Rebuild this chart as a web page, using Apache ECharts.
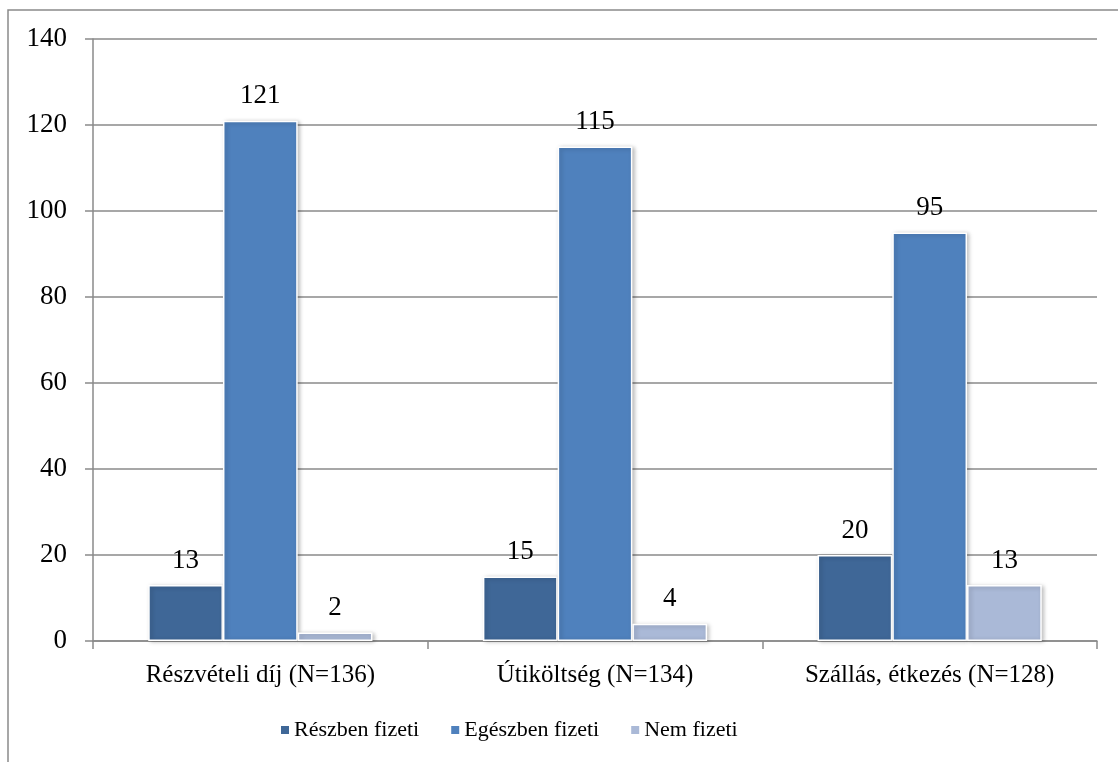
<!DOCTYPE html>
<html>
<head>
<meta charset="utf-8">
<script src="https://cdn.jsdelivr.net/npm/echarts@6/dist/echarts.min.js"></script>
<style>
html,body{margin:0;padding:0;background:#fff;}
#c{width:1118px;height:762px;}
</style>
</head>
<body>
<div id="c"></div>
<script>
const categories = ['Részvételi díj (N=136)', 'Útiköltség (N=134)', 'Szállás, étkezés (N=128)'];
const seriesNames = ['Részben fizeti', 'Egészben fizeti', 'Nem fizeti'];
const reszben = [13, 15, 20];
const egeszben = [121, 115, 95];
const nem = [2, 4, 13];
const yTicks = [0, 20, 40, 60, 80, 100, 120, 140];
const colors = ['#3F6797', '#4F81BD', '#AAB9D7'];

const FONT = 'Liberation Serif';
const chart = echarts.init(document.getElementById('c'));
const values = [reszben, egeszben, nem];
const barStyle = (c) => ({
  color: c,
  borderColor: '#ffffff',
  borderWidth: 1.5,
  shadowBlur: 4,
  shadowColor: 'rgba(0,0,0,0.25)',
  shadowOffsetX: 2,
  shadowOffsetY: 1
});
chart.setOption({
  animation: false,
  textStyle: { fontFamily: FONT },
  graphic: [{
    type: 'polyline',
    shape: { points: [[8, 762], [8, 10], [1118, 10]] },
    style: { stroke: '#8a8a8a', lineWidth: 1.5, fill: null },
    silent: true
  }],
  grid: { left: 93, right: 21, top: 39, bottom: 121 },
  legend: {
    bottom: 16,
    left: 274,
    itemWidth: 10,
    itemHeight: 10,
    itemGap: 30,
    icon: 'rect',
    formatter: (name) => '{t|' + name + '}',
    textStyle: {
      fontFamily: FONT, fontSize: 22, color: '#000',
      rich: { t: { fontFamily: FONT, fontSize: 22, color: '#000', padding: [0, 0, 0, -1] } }
    },
    data: seriesNames
  },
  xAxis: {
    type: 'category',
    data: categories,
    axisLine: { lineStyle: { color: '#8a8a8a', width: 1.5 } },
    axisTick: { show: true, length: 8, lineStyle: { color: '#8a8a8a', width: 1.5 } },
    axisLabel: { fontFamily: FONT, fontSize: 25, color: '#000', margin: 22 }
  },
  yAxis: {
    type: 'value',
    min: yTicks[0],
    max: yTicks[yTicks.length - 1],
    interval: yTicks[1] - yTicks[0],
    axisLine: { show: true, lineStyle: { color: '#8a8a8a', width: 1.5 } },
    axisTick: { show: true, length: 8, lineStyle: { color: '#8a8a8a', width: 1.5 } },
    splitLine: { lineStyle: { color: '#8a8a8a', width: 1.5 } },
    axisLabel: { fontFamily: FONT, fontSize: 27, color: '#000', margin: 26 }
  },
  series: seriesNames.map((n, i) => ({
    name: n,
    type: 'bar',
    data: values[i],
    barGap: '0%',
    barCategoryGap: '33%',
    itemStyle: barStyle(colors[i]),
    label: {
      show: true,
      position: 'top',
      distance: 11,
      fontFamily: FONT,
      fontSize: 27,
      color: '#000'
    }
  }))
});
</script>
</body>
</html>
